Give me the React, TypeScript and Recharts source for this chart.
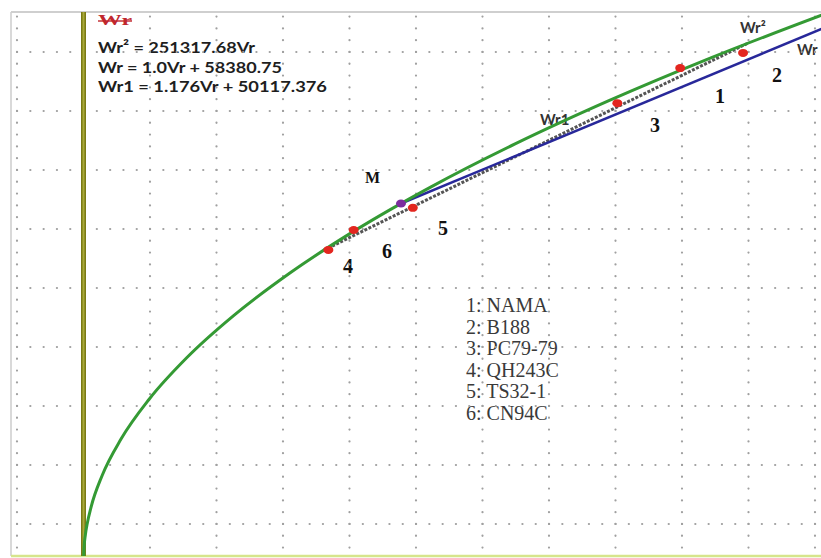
import { ComposedChart, Line, Scatter, XAxis, YAxis, ReferenceLine } from 'recharts'

// Wr² = 251317.68Vr
const curveVr = [0, 50, 200, 400, 800, 2000, 4000, 7000, 11000, 16000, 22000, 29000, 37000, 46000, 56000, 67000, 79000]
const curveWr = [0, 3545, 7090, 10026, 14180, 22420, 31706, 41943, 52578, 63412, 74357, 85371, 96430, 107520, 118633, 129763, 140904]

// Wr = 1.0Vr + 58380.75 (blue), from M to the right edge
const wrLineVr = [33841, 79000]
const wrLineWr = [92222, 137381]

// Wr1 = 1.176Vr + 50117.376 (grey chord)
const wr1Vr = [25633, 70853]
const wr1Wr = [80262, 133441]

// genotypes 1..6
const cultivars = ['NAMA', 'B188', 'PC79-79', 'QH243C', 'TS32-1', 'CN94C']
const pointVr = [63600, 70300, 56900, 26100, 35100, 28800]
const pointWr = [127000, 130900, 118000, 80300, 91100, 85400]

const mVr = 33840
const mWr = 92220

const xTicks = [-7088, 0, 7088, 14176, 21264, 28352, 35440, 42528, 49616, 56704, 63792, 70880, 77968]
const yTicks = [9890, 25045, 40200, 55355, 70510, 85665, 100820, 115975, 131130]

const X_DOMAIN: [number, number] = [-7727, 78608]
const Y_DOMAIN: [number, number] = [1670, 141408]

const toRows = (vr: number[], wr: number[]) => vr.map((v, i) => ({ vr: v, wr: wr[i] }))

const equations = ['Wr² = 251317.68Vr', 'Wr = 1.0Vr + 58380.75', 'Wr1 = 1.176Vr + 50117.376']
const eqWidths = [157, 184, 229]

export default function App() {
  const curveData = toRows(curveVr, curveWr)
  const wrData = toRows(wrLineVr, wrLineWr)
  const wr1Data = toRows(wr1Vr, wr1Wr)
  const points = toRows(pointVr, pointWr)
  const mPoint = [{ vr: mVr, wr: mWr }]

  const numStyle = { fontFamily: '"Liberation Serif", serif', fontWeight: 700, fontSize: 20, fill: '#111' }
  const lblStyle = { fontFamily: 'Lato, "Liberation Sans", sans-serif', fontWeight: 700, fontSize: 15, fill: '#333' }

  return (
    <div style={{ position: 'absolute', left: 0, top: 0, width: 821, height: 558, background: '#fff' }}>
      <ComposedChart width={821} height={558} margin={{ top: 12, right: 0, bottom: 2, left: 11 }}>
        <XAxis dataKey="vr" type="number" domain={X_DOMAIN} allowDataOverflow
          tick={false} axisLine={false} tickLine={false} height={0} />
        <YAxis dataKey="wr" type="number" domain={Y_DOMAIN} allowDataOverflow
          tick={false} axisLine={false} tickLine={false} width={0} />

        {/* dotted grid: rows dot every 13.3px, columns every 11.8px */}
        {yTicks.map(v => (
          <ReferenceLine key={`h${v}`} y={v} stroke="#a0a0a0" strokeWidth={2.2} strokeLinecap="round"
            strokeDasharray="0.1 13.2" strokeDashoffset={7.3} />
        ))}
        {xTicks.map(v => (
          <ReferenceLine key={`v${v}`} x={v} stroke="#a0a0a0" strokeWidth={2.2} strokeLinecap="round"
            strokeDasharray="0.1 11.7" strokeDashoffset={3.4} />
        ))}

        <ReferenceLine x={X_DOMAIN[0]} stroke="#cccccc" strokeWidth={1.5} />
        <ReferenceLine y={Y_DOMAIN[1]} stroke="#cfcfcf" strokeWidth={2} />
        <ReferenceLine y={Y_DOMAIN[0]} stroke="#d6e58c" strokeWidth={2.5} />
        <ReferenceLine x={0} stroke="#7a7a14" strokeWidth={5} />
        <ReferenceLine x={0} stroke="#a9a93a" strokeWidth={2} />

        <Line data={wr1Data} dataKey="wr" type="linear" stroke="#555555" strokeWidth={3}
          strokeDasharray="3 1.5" dot={false} isAnimationActive={false} />
        <Line data={wrData} dataKey="wr" type="linear" stroke="#28289a" strokeWidth={2.5}
          dot={false} isAnimationActive={false} />
        <Line data={curveData} dataKey="wr" type="monotone" stroke="#349a34" strokeWidth={3}
          dot={false} isAnimationActive={false} />

        <Scatter data={points} dataKey="wr" isAnimationActive={false}
          shape={(p: any) => <ellipse cx={p.cx} cy={p.cy} rx={5} ry={4} fill="#e3261f" />} />
        <Scatter data={mPoint} dataKey="wr" isAnimationActive={false}
          shape={(p: any) => <ellipse cx={p.cx} cy={p.cy} rx={5} ry={4} fill="#7b2c9e" />} />

        <text x={98} y={25} fontFamily='"Liberation Serif", serif' fontWeight={700} fontSize={14}
          fill="#c0272d" textDecoration="line-through" textLength={34} lengthAdjust="spacingAndGlyphs">Wr</text>
        {equations.map((eq, i) => (
          <text key={eq} x={98} y={53 + i * 19.5} fontFamily='Lato, "Liberation Sans", sans-serif'
            fontWeight={700} fontSize={16} fill="#1e1e1e" textLength={eqWidths[i]}
            lengthAdjust="spacingAndGlyphs">{eq}</text>
        ))}

        <text x={740} y={33} style={lblStyle}>Wr²</text>
        <text x={797} y={55} style={lblStyle}>Wr</text>
        <text x={540} y={125} style={lblStyle}>Wr1</text>

        <text x={715} y={103} style={numStyle}>1</text>
        <text x={772} y={82} style={numStyle}>2</text>
        <text x={650} y={132} style={numStyle}>3</text>
        <text x={343} y={273} style={numStyle}>4</text>
        <text x={438} y={235} style={numStyle}>5</text>
        <text x={382} y={258} style={numStyle}>6</text>
        <text x={365} y={183} style={{ ...numStyle, fontSize: 16 }}>M</text>

        {cultivars.map((c, i) => (
          <text key={c} x={466} y={312 + i * 21.6} fontFamily='"Liberation Serif", serif'
            fontSize={20} fill="#3a3a3a">{`${i + 1}: ${c}`}</text>
        ))}
      </ComposedChart>
    </div>
  )
}
